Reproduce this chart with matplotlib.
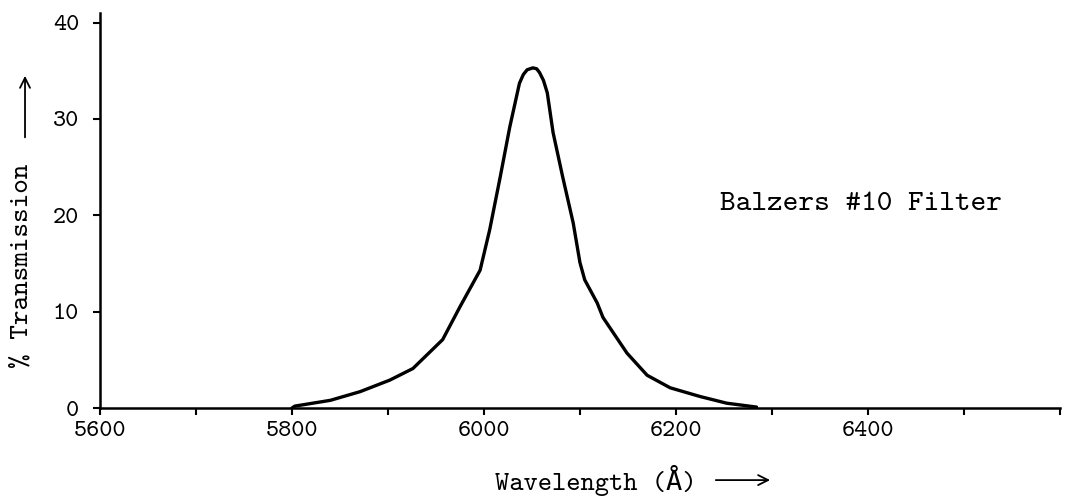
import matplotlib
matplotlib.use('Agg')
import matplotlib.pyplot as plt

# Balzers #10 filter transmission curve
wavelength = [5800, 5803, 5840, 5871, 5902, 5926, 5957, 5975, 5996, 6006,
              6017, 6027, 6037, 6041, 6045, 6051, 6055, 6058, 6062, 6066,
              6072, 6082, 6093, 6100, 6105, 6118, 6124, 6149, 6170, 6194,
              6225, 6253, 6284]
transmission = [0.0, 0.2, 0.8, 1.7, 2.9, 4.1, 7.1, 10.5, 14.3, 18.5,
                24.0, 29.2, 33.7, 34.6, 35.1, 35.3, 35.2, 34.8, 34.0, 32.7,
                28.6, 24.0, 19.2, 15.1, 13.3, 10.9, 9.4, 5.7, 3.4, 2.1,
                1.2, 0.5, 0.1]

xticks = [5600, 5700, 5800, 5900, 6000, 6100, 6200, 6300, 6400, 6500, 6600]
xticklabels = ['5600', '', '5800', '', '6000', '', '6200', '', '6400', '', '']
yticks = [0, 10, 20, 30, 40]

plt.rcParams['font.family'] = ['cmtt10', 'DejaVu Sans Mono', 'DejaVu Sans']

fig = plt.figure(figsize=(10.69, 4.97), dpi=100)
ax = fig.add_axes([0.0935, 0.179, 0.898, 0.795])

ax.plot(wavelength, transmission, color='black', lw=2.4,
        solid_joinstyle='round', solid_capstyle='round')

ax.set_xlim(5600, 6600)
ax.set_ylim(0, 41)
ax.set_xticks(xticks)
ax.set_xticklabels(xticklabels)
ax.set_yticks(yticks)
ax.tick_params(direction='out', length=5, width=1.5, labelsize=18, colors='black')
ax.tick_params(axis='x', pad=4)
ax.tick_params(axis='y', pad=10)

for s in ['top', 'right']:
    ax.spines[s].set_visible(False)
for s in ['left', 'bottom']:
    ax.spines[s].set_linewidth(1.8)

# axis titles with the long hand-drawn style arrows
fig.text(0.0206, 0.466, '% Transmission', rotation=90, fontsize=20,
         ha='center', va='center')
fig.text(0.5575, 0.034, 'Wavelength (\u00c5)', fontsize=19.5,
         ha='center', va='center')
arrow = dict(arrowstyle='->', lw=1.3, color='black', mutation_scale=18)
ax.annotate('', xy=(0.0234, 0.853), xytext=(0.0234, 0.718),
            xycoords='figure fraction', textcoords='figure fraction',
            arrowprops=arrow, annotation_clip=False)
ax.annotate('', xy=(0.723, 0.034), xytext=(0.667, 0.034),
            xycoords='figure fraction', textcoords='figure fraction',
            arrowprops=arrow, annotation_clip=False)

ax.text(6246, 21.1, 'Balzers #10 Filter', fontsize=21.5, ha='left', va='center')

fig.savefig('out.png', dpi=100)
